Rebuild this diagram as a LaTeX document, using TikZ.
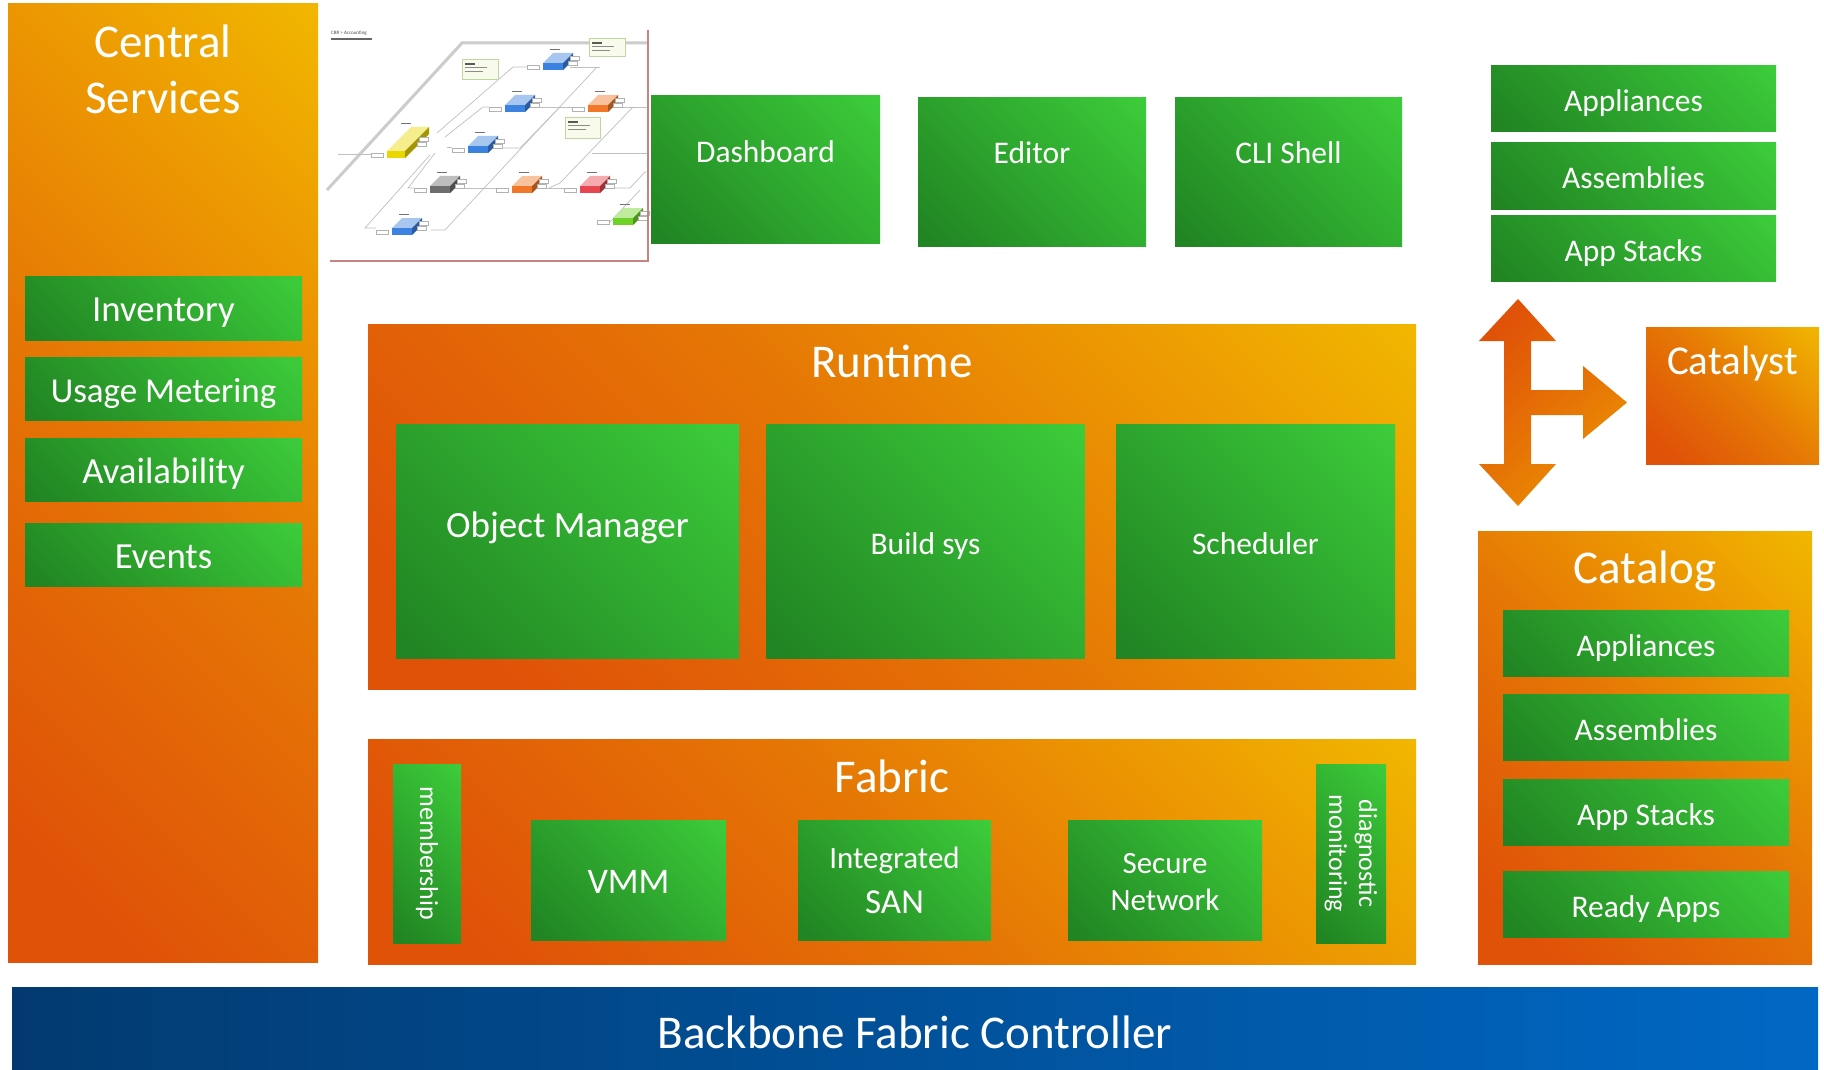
\documentclass[tikz,border=0pt]{standalone}
\usepackage{fontspec}
\setmainfont{Carlito}

% palette
\definecolor{ordark}{RGB}{224,82,8}
\definecolor{ormid}{RGB}{229,118,5}
\definecolor{orlight}{RGB}{236,150,2}
\definecolor{oryel}{RGB}{241,184,0}
\definecolor{grdark}{RGB}{33,133,35}
\definecolor{grlight}{RGB}{60,203,58}
\definecolor{bldark}{RGB}{2,58,112}
\definecolor{bllight}{RGB}{0,104,196}
\definecolor{thumbedge}{RGB}{200,130,130}
\definecolor{tyellow}{RGB}{235,215,0}
\definecolor{tblue}{RGB}{60,130,225}
\definecolor{torange}{RGB}{240,120,40}
\definecolor{tgrey}{RGB}{110,110,110}
\definecolor{tred}{RGB}{230,70,80}
\definecolor{tgreen}{RGB}{110,210,40}
\definecolor{callfill}{RGB}{248,250,235}
\definecolor{callline}{RGB}{190,215,160}

% diagonal ramps (bottom-left dark, top-right light once rotated by 45)
\pgfdeclarehorizontalshading{orangeramp}{100bp}{color(0bp)=(ordark); color(22bp)=(ordark); color(50bp)=(ormid); color(68bp)=(orlight); color(86bp)=(oryel); color(100bp)=(oryel)}
\pgfdeclarehorizontalshading{greenramp}{100bp}{color(0bp)=(grdark); color(18bp)=(grdark); color(84bp)=(grlight); color(100bp)=(grlight)}
\pgfdeclarehorizontalshading{blueramp}{100bp}{color(0bp)=(bldark); color(25bp)=(bldark); color(75bp)=(bllight); color(100bp)=(bllight)}
\pgfdeclarehorizontalshading{arrowramp}{100bp}{color(0bp)=(ordark); color(25bp)=(ordark); color(80bp)=(orlight); color(100bp)=(orlight)}

% small isometric block of the network sketch: x, y (front lower-left), width, depth, colour
\newcommand{\netblock}[5]{%
  \fill[#5!45!white] (#1,#2-7) -- ++(#4,-#4) -- ++(#3,0) -- ++(-#4,#4) -- cycle;
  \fill[#5] (#1,#2-7) rectangle ++(#3,7);
  \fill[#5!70!black] (#1+#3,#2) -- ++(0,-7) -- ++(#4,-#4) -- ++(0,7) -- cycle;
  \draw[gray!60, fill=white, line width=0.4] (#1-16,#2-5) rectangle ++(12,4);
  \draw[gray!60, fill=white, line width=0.4] (#1+#3+#4/2+2,#2-#4/2-9) rectangle ++(9,4);
  \draw[gray!60, fill=white, line width=0.4] (#1+#3+#4/2,#2-#4/2-4) rectangle ++(9,4);
  \fill[black!55] (#1+#4/2+2,#2-#4-11) rectangle ++(10,1.4);
}
% small callout note of the network sketch
\newcommand{\netnote}[4]{%
  \draw[callline, fill=callfill, line width=0.6] (#1,#2) rectangle (#3,#4);
  \fill[black!65] (#1+3,#2+4) rectangle ++(10,1.6);
  \fill[black!45] (#1+3,#2+8) rectangle ++(22,1.2);
  \fill[black!45] (#1+3,#2+12) rectangle ++(18,1.2);
}

\tikzset{
  greenbox/.style={rectangle, inner sep=0pt, outer sep=0pt, shade, shading=greenramp,
    shading angle=45, text=white, font=\fontsize{31.5}{38}\selectfont,
    text height=26pt, text depth=0pt},
  listtxt/.style={font=\fontsize{36.8}{44}\selectfont, text height=26.6pt},
  orangebox/.style={rectangle, inner sep=0pt, outer sep=0pt, shade, shading=orangeramp,
    shading angle=45},
  caption/.style={text=white, inner sep=0pt, anchor=base, align=center,
    font=\fontsize{31.5}{38}\selectfont},
  bigtitle/.style={caption, font=\fontsize{47}{56.6}\selectfont},
  vertcap/.style={text=white, inner sep=0pt, rotate=-90, align=center,
    font=\fontsize{26}{30}\selectfont},
  netline/.style={gray!50, line width=0.7},
}

\begin{document}
\begin{tikzpicture}[x=1pt,y=-1pt]
\useasboundingbox (0,0) rectangle (1824,1070);
\fill[white] (0,0) rectangle (1824,1070);

% ---------------- Central Services column
\node[orangebox, minimum width=310, minimum height=958] (central) at (163,483) {};
% base anchor of a two-line caption sits on its last line
\node[bigtitle] (centralT) at (163,114) {Central\\Services};
\node[greenbox, listtxt, minimum width=277, minimum height=63.5] (inv) at (163.5,308.5) {Inventory};
\node[greenbox, listtxt, font=\fontsize{35}{42}\selectfont, minimum width=277, minimum height=63.5] (usage) at (163.5,388.75) {Usage Metering};
\node[greenbox, listtxt, minimum width=277, minimum height=63.5] (avail) at (163.5,469.75) {Availability};
\node[greenbox, listtxt, minimum width=277, minimum height=63.5] (events) at (163.5,554.75) {Events};

% ---------------- network sketch (screenshot)
\begin{scope}
  \node[font=\fontsize{5}{6}\selectfont, text=black!70, anchor=north west, inner sep=0pt]
    (netcap) at (331,31) {CBR > Accounting};
  \fill[black!60] (331,38.5) rectangle (372,40);
  \draw[gray!40, line width=3] (327,190) -- (462,43) -- (648,43);
  % links
  \draw[netline] (338,154) -- (371,154);
  \draw[netline] (437,133) -- (513,67) -- (527,67);
  \draw[netline] (445,137) -- (483,107) -- (489,107);
  \draw[netline] (447,147) -- (452,147);
  \draw[netline] (435,153) -- (408,188) -- (414,188);
  \draw[netline] (430,155) -- (365,228) -- (376,228);
  \draw[netline] (597,67) -- (445,230) -- (431,230);
  \draw[netline] (570,67) -- (600,67);
  \draw[netline] (633,107) -- (560,183) -- (549,188);
  \draw[netline] (592,153) -- (648,153);
  \draw[netline] (462,188) -- (496,188);
  \draw[netline] (545,188) -- (564,188);
  \draw[netline] (614,188) -- (630,188) -- (645,172) -- (648,172);
  \draw[netline] (610,222) -- (640,190);
  \draw[netline] (622,107) -- (648,107);
  \draw[netline] (540,107) -- (572,107);
  \draw[netline] (500,148) -- (520,148) -- (560,107);
  % devices
  \netblock{387}{158}{18}{24}{tyellow}
  \netblock{543}{70}{20}{10}{tblue}
  \netblock{505}{112}{20}{10}{tblue}
  \netblock{468}{153}{20}{10}{tblue}
  \netblock{392}{235}{20}{10}{tblue}
  \netblock{588}{112}{20}{10}{torange}
  \netblock{512}{193}{20}{10}{torange}
  \netblock{430}{193}{20}{10}{tgrey}
  \netblock{580}{193}{20}{10}{tred}
  \netblock{613}{225}{20}{10}{tgreen}
  % notes
  \netnote{462}{59}{498}{79}
  \netnote{589}{38}{625}{56}
  \netnote{565}{117}{600}{138}
  % frame
  \draw[thumbedge, line width=2] (330,261) -- (648,261) -- (648,30);
\end{scope}

% ---------------- tools row
\node[greenbox, minimum width=229, minimum height=147] (dash) at (765.5,169.5) {};
\node[caption] (dashT) at (765.5,163) {Dashboard};
\node[greenbox, minimum width=228, minimum height=148] (editor) at (1032,172) {};
\node[caption] (editorT) at (1032,164) {Editor};
\node[greenbox, minimum width=227, minimum height=148] (cli) at (1288.5,172) {};
\node[caption] (cliT) at (1288.5,164) {CLI Shell};

% ---------------- catalyst stack (top right)
\node[greenbox, minimum width=285, minimum height=66] (tapp) at (1633.5,99) {Appliances};
\node[greenbox, minimum width=285, minimum height=66] (tasm) at (1633.5,176) {Assemblies};
\node[greenbox, minimum width=285, minimum height=66] (tstk) at (1633.5,248) {App Stacks};

% three-way arrow
\shade[shading=arrowramp, shading angle=-45]
  (1518,299) -- (1556,341) -- (1531,341) -- (1531,390) -- (1583,390) -- (1583,366)
  -- (1627,402.5) -- (1583,439) -- (1583,415) -- (1531,415) -- (1531,464)
  -- (1556,464) -- (1518,506) -- (1479,464) -- (1504,464) -- (1504,341)
  -- (1479,341) -- cycle;

\node[orangebox, minimum width=173, minimum height=137] (catalyst) at (1732.5,395.5) {};
\node[caption, font=\fontsize{41}{49}\selectfont] (catalystT) at (1732.5,374) {Catalyst};

% ---------------- Runtime
\node[orangebox, minimum width=1048, minimum height=365] (runtime) at (892,506.5) {};
\node[bigtitle] (runtimeT) at (892,377) {Runtime};
\node[greenbox, minimum width=343, minimum height=234] (objmgr) at (567.5,541) {};
\node[caption, font=\fontsize{37}{44}\selectfont] (objmgrT) at (567.5,537) {Object Manager};
\node[greenbox, minimum width=318, minimum height=234] (build) at (925.5,541) {Build sys};
\node[greenbox, minimum width=279, minimum height=234] (sched) at (1255.5,541) {Scheduler};

% ---------------- Fabric
\node[orangebox, minimum width=1048, minimum height=225] (fabric) at (892,851.5) {};
\node[bigtitle] (fabricT) at (892,792) {Fabric};
\node[greenbox, minimum width=68, minimum height=179] (memb) at (427,853.5) {};
\node[vertcap] (membT) at (memb.center) {membership};
\node[greenbox, font=\fontsize{36}{43}\selectfont, text height=26pt,
  minimum width=195, minimum height=120] (vmm) at (628.5,880) {VMM};
\node[greenbox, minimum width=193, minimum height=120] (san) at (894.5,880) {};
\node[caption, font=\fontsize{31}{45}\selectfont] (sanT) at (894.5,913) {Integrated\\{\fontsize{35}{45}\selectfont SAN}};
\node[greenbox, minimum width=194, minimum height=120] (secnet) at (1165,880) {};
\node[caption, font=\fontsize{31}{37}\selectfont] (secnetT) at (1165,910) {Secure\\Network};
\node[greenbox, minimum width=70, minimum height=179] (diag) at (1351,853.5) {};
\node[vertcap] (diagT) at (diag.center) {diagnostic\\monitoring};

% ---------------- Catalog
\node[orangebox, minimum width=334, minimum height=433] (catalog) at (1645,747.5) {};
\node[bigtitle] (catalogT) at (1645,583) {Catalog};
\node[greenbox, minimum width=286, minimum height=66] (capp) at (1646,643) {Appliances};
\node[greenbox, minimum width=286, minimum height=66] (casm) at (1646,727) {Assemblies};
\node[greenbox, minimum width=286, minimum height=66] (cstk) at (1646,812) {App Stacks};
\node[greenbox, minimum width=286, minimum height=66] (cready) at (1646,904) {Ready Apps};

% ---------------- Backbone
\node[rectangle, inner sep=0pt, shade, shading=blueramp, minimum width=1806,
  minimum height=83] (bfc) at (915,1028.5) {};
\node[bigtitle] (bfcT) at (915,1048) {Backbone Fabric Controller};
\end{tikzpicture}
\end{document}
